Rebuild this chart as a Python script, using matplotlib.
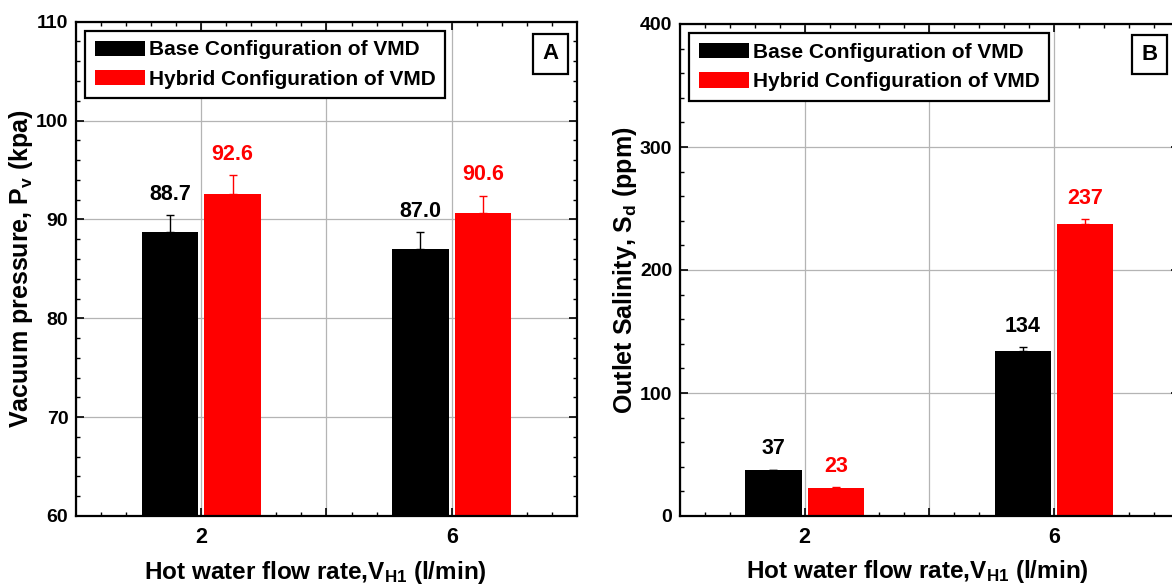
import matplotlib
matplotlib.use("Agg")
import matplotlib.pyplot as plt
import numpy as np
from matplotlib.ticker import MultipleLocator

plt.rcParams["font.family"] = ["Liberation Sans", "DejaVu Sans"]
plt.rcParams["font.weight"] = "bold"
plt.rcParams["axes.labelweight"] = "bold"
plt.rcParams["mathtext.fontset"] = "custom"
plt.rcParams["mathtext.rm"] = "Liberation Sans:bold"
plt.rcParams["mathtext.bf"] = "Liberation Sans:bold"

# flow rates (l/min)
flow = [2, 6]
series = ["Base Configuration of VMD", "Hybrid Configuration of VMD"]
colors = ["#000000", "#ff0000"]

# panel A: vacuum pressure (kpa)
pv_base = [88.7, 87.0]
pv_base_err = [1.75, 1.7]
pv_hybrid = [92.6, 90.6]
pv_hybrid_err = [1.85, 1.8]
pv_labels_base = ["88.7", "87.0"]
pv_labels_hybrid = ["92.6", "90.6"]

# panel B: outlet salinity (ppm)
sd_base = [37, 134]
sd_base_err = [0.8, 3.0]
sd_hybrid = [23, 237]
sd_hybrid_err = [0.5, 4.5]
sd_labels_base = ["37", "134"]
sd_labels_hybrid = ["23", "237"]

W, H = 1172, 585
fig = plt.figure(figsize=(W / 100, H / 100), dpi=100)
axA = fig.add_axes([76 / W, 1 - 516 / H, 501 / W, 494.3 / H])
# panel B runs past the right edge of the image (cropped in the original)
axB = fig.add_axes([680 / W, 1 - 516 / H, 498.6 / W, 492 / H])


def draw(ax, base, base_err, hyb, hyb_err, lab_b, lab_h, ylim, ymaj, ymin, ylabel, tag):
    x = np.array(flow, dtype=float)
    ax.set_axisbelow(True)
    ax.grid(True, which="major", color="#b4b4b4", lw=0.9)
    for off, vals, errs, labs, c, name in [(-0.5, base, base_err, lab_b, colors[0], series[0]),
                                           (0.5, hyb, hyb_err, lab_h, colors[1], series[1])]:
        ax.bar(x + off, vals, 0.9, color=c, lw=0, label=name)
        ax.errorbar(x + off, vals, yerr=[np.zeros(len(vals)), errs], fmt="none",
                    ecolor=c, elinewidth=1.0, capsize=3, capthick=1.0)
        for xi, v, e, t in zip(x + off, vals, errs, labs):
            ax.annotate(t, (xi, v + e), textcoords="offset points", xytext=(0, 15),
                        ha="center", va="center", fontsize=15.5, fontweight="bold", color=c)
    ax.set_xlim(0, 8)
    ax.set_ylim(*ylim)
    ax.set_xticks([0, 2, 4, 6, 8])
    ax.set_xticklabels(["", "2", "", "6", ""])
    ax.xaxis.set_minor_locator(MultipleLocator(0.4))
    ax.yaxis.set_major_locator(MultipleLocator(ymaj))
    ax.yaxis.set_minor_locator(MultipleLocator(ymin))
    ax.tick_params(which="both", direction="in", top=True, right=True)
    ax.tick_params(which="major", length=6, width=1.2)
    ax.tick_params(which="minor", length=3, width=1.0)
    ax.tick_params(axis="x", pad=8, labelsize=15.5)
    ax.tick_params(axis="y", pad=5.5, labelsize=14)
    for s in ax.spines.values():
        s.set_linewidth(1.6)
    ax.set_xlabel(r"Hot water flow rate,V$\mathregular{_{H1}}$ (l/min)", fontsize=17.5,
                  fontweight="bold")
    ax.xaxis.set_label_coords(0.477, -0.086)
    ax.set_ylabel(ylabel, fontsize=18, fontweight="bold", labelpad=0.5)
    leg = ax.legend(loc="upper left", prop={"size": 15, "weight": "bold"}, fancybox=False,
                    edgecolor="black", framealpha=1, handlelength=2.4, handleheight=0.75,
                    handletextpad=0.2, labelspacing=0.5, borderpad=0.45, borderaxespad=0.45)
    leg.get_frame().set_linewidth(1.6)
    ax.text(tag[1], tag[2], tag[0], transform=ax.transAxes, ha="center", va="center",
            fontsize=16, fontweight="bold",
            bbox=dict(boxstyle="square,pad=0.42", fc="white", ec="black", lw=1.6))


draw(axA, pv_base, pv_base_err, pv_hybrid, pv_hybrid_err, pv_labels_base, pv_labels_hybrid,
     (60, 110), 10, 2, r"Vacuum pressure, P$\mathregular{_v}$ (kpa)", ("A", 0.947, 0.935))
draw(axB, sd_base, sd_base_err, sd_hybrid, sd_hybrid_err, sd_labels_base, sd_labels_hybrid,
     (0, 400), 100, 20, r"Outlet Salinity, S$\mathregular{_d}$ (ppm)", ("B", 0.942, 0.938))

fig.savefig("out.png", dpi=100)
